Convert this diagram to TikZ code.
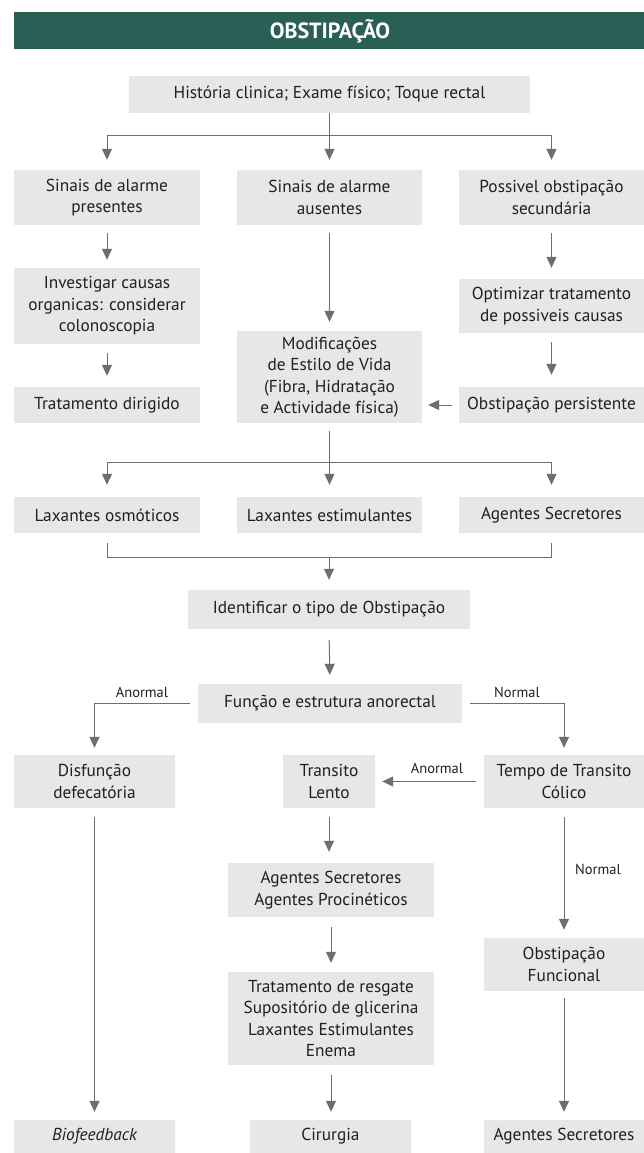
\documentclass[tikz,border=0pt]{standalone}
\usepackage{fontspec}
\setmainfont{PT Sans}
\usetikzlibrary{arrows.meta}
\definecolor{teal}{HTML}{2A5F55}
\definecolor{boxgray}{HTML}{E6E7E8}
\definecolor{lngray}{HTML}{6D6E71}
\definecolor{txt}{HTML}{231F20}
\tikzset{
  box/.style={fill=boxgray, draw=none, inner sep=0pt, align=center, text=txt,
    font=\fontsize{17.3}{21.5}\selectfont},
  ln/.style={draw=lngray, line width=1pt},
  arr/.style={ln, -{Triangle[length=11pt,width=10pt]}},
  lbl/.style={font=\fontsize{14.5}{16}\selectfont, text=txt, inner sep=0pt},
}
\newcommand\bx[6]{\node[box, minimum width={(#4-#2)*1pt}, minimum height={(#5-#3)*1pt}]
  (#1) at ({(#2+#4)/2},{-(#3+#5)/2}) {#6};}
\begin{document}
\begin{tikzpicture}[x=1pt,y=1pt]
\useasboundingbox[fill=white] (0,0) rectangle (644,-1153);
% header
\fill[teal] (14,-12) rectangle (644,-49);
\node[text=white, font=\bfseries\fontsize{22}{26}\selectfont] (title) at (330,-31) {OBSTIPAÇÃO};
% boxes
\bx{top}{129}{76}{530}{113}{História clinica; Exame físico; Toque rectal}
\bx{sap}{14}{170}{200}{225}{Sinais de alarme\\presentes}
\bx{saa}{237}{170}{422}{225}{Sinais de alarme\\ausentes}
\bx{sec}{459}{170}{644}{225}{Possivel obstipação\\secundária}
\bx{inv}{14}{268}{200}{344}{Investigar causas\\organicas: considerar\\colonoscopia}
\bx{tdir}{14}{387}{200}{423}{Tratamento dirigido}
\bx{mod}{237}{331}{422}{423}{Modificações\\de Estilo de Vida\\(Fibra, Hidratação\\e Actividade física)}
\bx{opt}{459}{279}{644}{333}{Optimizar tratamento\\de possiveis causas}
\bx{per}{459}{387}{644}{423}{Obstipação persistente}
\bx{lo}{14}{497}{200}{533}{Laxantes osmóticos}
\bx{le}{237}{497}{422}{533}{Laxantes estimulantes}
\bx{as}{459}{497}{644}{533}{Agentes Secretores}
\bx{ident}{188}{590}{470}{629}{Identificar o tipo de Obstipação}
\bx{func}{198}{684}{462}{723}{Função e estrutura anorectal}
\bx{dis}{14}{755}{175}{808}{Disfunção\\defecatória}
\bx{trans}{283}{755}{375}{808}{Transito\\Lento}
\bx{tempo}{484}{755}{644}{808}{Tempo de Transito\\Cólico}
\bx{ag}{228}{863}{434}{917}{Agentes Secretores\\Agentes Procinéticos}
\bx{resg}{228}{972}{434}{1065}{Tratamento de resgate\\Supositório de glicerina\\Laxantes Estimulantes\\Enema}
\bx{ofun}{484}{938}{644}{991}{Obstipação\\Funcional}
\bx{bio}{14}{1120}{175}{1153}{\itshape Biofeedback}
\bx{cir}{250}{1120}{411}{1153}{Cirurgia}
\bx{agsec}{484}{1120}{644}{1153}{Agentes Secretores}
% junction coordinates
\coordinate (b1) at (0,-135);
\coordinate (b2) at (0,-462);
\coordinate (b3) at (0,-557);
% top split
\draw[ln] (top.south) -- (top.south |- b1);
\draw[ln] (sap.north |- b1) -- (sec.north |- b1);
\draw[arr, shorten >=10pt] (sap.north |- b1) -- (sap.north);
\draw[arr, shorten >=10pt] (top.south |- b1) -- (top.south |- saa.north);
\draw[arr, shorten >=10pt] (sec.north |- b1) -- (sec.north);
% columns
\draw[arr, shorten <=8pt, shorten >=8pt] (sap.south) -- (inv.north);
\draw[arr, shorten <=9pt, shorten >=11pt] (inv.south) -- (tdir.north);
\draw[arr, shorten <=8pt, shorten >=9pt] (saa.south) -- (mod.north);
\draw[arr, shorten <=8pt, shorten >=11pt] (sec.south) -- (opt.north);
\draw[arr, shorten <=9pt, shorten >=12pt] (opt.south) -- (per.north);
\draw[arr, shorten <=7pt, shorten >=6pt] (per.west) -- (per.west -| mod.east);
% split to laxatives
\draw[arr, shorten <=8pt, shorten >=12pt] (mod.south) -- (mod.south |- le.north);
\draw[ln] (lo.north |- b2) -- (as.north |- b2);
\draw[arr, shorten >=12pt] (lo.north |- b2) -- (lo.north);
\draw[arr, shorten >=12pt] (as.north |- b2) -- (as.north);
% bracket
\draw[ln] ([yshift=-10pt]lo.south) -- (lo.south |- b3) -- (as.south |- b3) -- ([yshift=-10pt]as.south);
\draw[arr, shorten >=10pt] (ident.north |- b3) -- (ident.north);
\draw[arr, shorten <=11pt, shorten >=9pt] (ident.south) -- (func.north);
% anorectal branches
\draw[arr, shorten <=8pt, shorten >=7pt] (func.west) -| (dis.north);
\draw[arr, shorten <=8pt, shorten >=7pt] (func.east) -| (tempo.north);
\node[lbl] (l1) at (142,-692) {Anormal};
\node[lbl] (l2) at (517,-692) {Normal};
\draw[arr, shorten <=8pt, shorten >=7pt] (tempo.west) -- (trans.east);
\node[lbl] (l3) at (437,-768) {Anormal};
% lower columns
\draw[arr, shorten <=9pt, shorten >=8pt] (dis.south) -- (bio.north);
\draw[arr, shorten <=9pt, shorten >=11pt] (trans.south) -- (trans.south |- ag.north);
\draw[arr, shorten <=10pt, shorten >=9pt] (ag.south) -- (resg.north);
\draw[arr, shorten <=10pt, shorten >=8pt] (resg.south) -- (resg.south |- cir.north);
\draw[arr, shorten <=9pt, shorten >=8pt] (tempo.south) -- (ofun.north);
\node[lbl] (l4) at (598,-869) {Normal};
\draw[arr, shorten <=7pt, shorten >=8pt] (ofun.south) -- (agsec.north);
\end{tikzpicture}
\end{document}
